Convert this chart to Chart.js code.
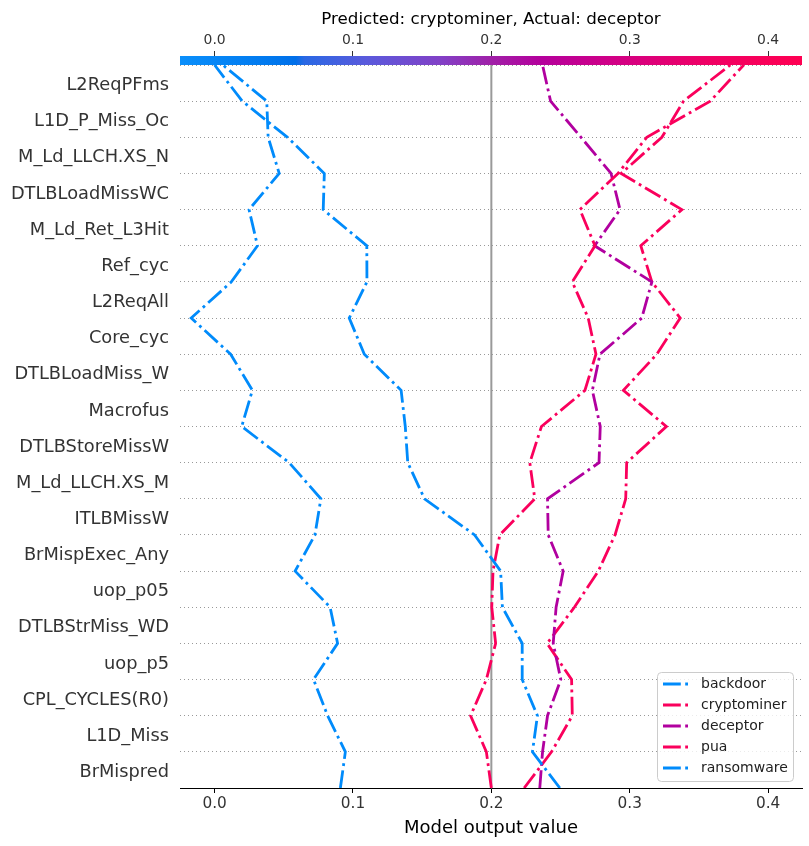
<!DOCTYPE html>
<html>
<head>
<meta charset="utf-8">
<script src="https://cdn.jsdelivr.net/npm/chart.js@4.4.1/dist/chart.umd.min.js"></script>
<style>
  html, body { margin: 0; padding: 0; background: #fff; }
  canvas { display: block; }
</style>
</head>
<body>
<canvas id="decisionChart" width="809" height="846"></canvas>
<script>
// feature names, top row first
var features = [
    "L2ReqPFms", "L1D_P_Miss_Oc", "M_Ld_LLCH.XS_N", "DTLBLoadMissWC", "M_Ld_Ret_L3Hit",
    "Ref_cyc", "L2ReqAll", "Core_cyc", "DTLBLoadMiss_W", "Macrofus",
    "DTLBStoreMissW", "M_Ld_LLCH.XS_M", "ITLBMissW", "BrMispExec_Any", "uop_p05",
    "DTLBStrMiss_WD", "uop_p5", "CPL_CYCLES(R0)", "L1D_Miss", "BrMispred"
];

var classNames = ["backdoor", "cryptominer", "deceptor", "pua", "ransomware"];

// model output per class, from the base value (bottom edge) up through each feature to the final output (top edge)
var backdoor = [0.2495, 0.2297, 0.2333, 0.2223, 0.2223, 0.2080, 0.2067, 0.1879, 0.1517, 0.1396, 0.1378,
    0.1348, 0.1082, 0.0973, 0.1101, 0.1100, 0.0785, 0.0793, 0.0527, 0.0200, 0.0000];
var cryptominer = [0.2000, 0.1964, 0.1850, 0.1964, 0.2031, 0.2003, 0.2012, 0.2061, 0.2314, 0.2278, 0.2362,
    0.2676, 0.2756, 0.2700, 0.2585, 0.2749, 0.2640, 0.2915, 0.3123, 0.3582, 0.3824];
var deceptor = [0.2350, 0.2370, 0.2406, 0.2502, 0.2447, 0.2468, 0.2519, 0.2411, 0.2406, 0.2778, 0.2787,
    0.2730, 0.2785, 0.3087, 0.3160, 0.2746, 0.2930, 0.2865, 0.2648, 0.2428, 0.2370];
var pua = [0.2237, 0.2435, 0.2585, 0.2580, 0.2403, 0.2600, 0.2773, 0.2894, 0.2971, 0.2978, 0.3265,
    0.2954, 0.3196, 0.3365, 0.3160, 0.3080, 0.3377, 0.2938, 0.3232, 0.3389, 0.3727];
var ransomware = [0.0909, 0.0945, 0.0817, 0.0715, 0.0889, 0.0835, 0.0582, 0.0725, 0.0768, 0.0539, 0.0196,
    0.0273, 0.0116, -0.0169, 0.0121, 0.0310, 0.0249, 0.0467, 0.0387, 0.0377, 0.0060];

var baseValue = 0.2;
var xTicks = [0.0, 0.1, 0.2, 0.3, 0.4];

var xMin = -0.025, xMax = 0.4245;
var lineColors = ['#008bfb', '#fa005c', '#b1009f', '#fa005c', '#008bfb'];
var dashDot = [17.8, 4.4, 2.8, 4.4];

Chart.defaults.font.family = "'DejaVu Sans', sans-serif";

var series = [backdoor, cryptominer, deceptor, pua, ransomware];
var datasets = series.map(function (vals, k) {
    return {
        label: classNames[k],
        data: vals.map(function (v, i) { return { x: v, y: i }; }),
        borderColor: lineColors[k],
        backgroundColor: lineColors[k],
        borderWidth: 2.8,
        borderDash: dashDot,
        borderCapStyle: 'butt',
        pointRadius: 0,
        tension: 0,
        fill: false
    };
});

var decisionExtras = {
    id: 'decisionExtras',
    beforeDatasetsDraw: function (chart) {
        var ctx = chart.ctx, a = chart.chartArea;
        var bx = chart.scales.x.getPixelForValue(baseValue);
        ctx.save();
        ctx.strokeStyle = '#999999';
        ctx.lineWidth = 2;
        ctx.beginPath();
        ctx.moveTo(bx, a.top);
        ctx.lineTo(bx, a.bottom);
        ctx.stroke();
        ctx.restore();
    },
    afterDraw: function (chart) {
        var ctx = chart.ctx, a = chart.chartArea;
        // colour bar over the x range
        var g = ctx.createLinearGradient(a.left, 0, a.right, 0);
        g.addColorStop(0.00, '#0a8ffb');
        g.addColorStop(0.15, '#0078ee');
        g.addColorStop(0.186, '#006fe9');
        g.addColorStop(0.20, '#2a68e4');
        g.addColorStop(0.30, '#5a5adc');
        g.addColorStop(0.42, '#8240c6');
        g.addColorStop(0.50, '#a020a8');
        g.addColorStop(0.58, '#b4009c');
        g.addColorStop(0.70, '#d20085');
        g.addColorStop(0.85, '#f00064');
        g.addColorStop(1.00, '#ff0052');
        ctx.save();
        ctx.fillStyle = g;
        ctx.fillRect(a.left, a.top - 9, a.right - a.left, 9);
        ctx.restore();

        // legend, lower right inside the plot
        var rowH = 21, boxW = 136, boxH = 109;
        var bx = a.right - 9 - boxW, by = a.bottom - 7 - boxH;
        ctx.save();
        ctx.beginPath();
        ctx.roundRect(bx + 0.5, by + 0.5, boxW, boxH, 4);
        ctx.fillStyle = 'rgba(255,255,255,0.8)';
        ctx.fill();
        ctx.strokeStyle = '#cccccc';
        ctx.lineWidth = 1;
        ctx.stroke();
        ctx.font = "14px 'DejaVu Sans'";
        ctx.textBaseline = 'middle';
        ctx.textAlign = 'left';
        chart.data.datasets.forEach(function (ds, k) {
            var cy = by + 12 + k * rowH;
            ctx.beginPath();
            ctx.setLineDash(ds.borderDash);
            ctx.lineWidth = ds.borderWidth;
            ctx.strokeStyle = ds.borderColor;
            ctx.moveTo(bx + 6, cy);
            ctx.lineTo(bx + 33, cy);
            ctx.stroke();
            ctx.setLineDash([]);
            ctx.fillStyle = '#222';
            ctx.fillText(ds.label, bx + 44, cy);
        });
        ctx.restore();
    }
};

var config = {
    type: 'line',
    data: { datasets: datasets },
    options: {
        responsive: false,
        animation: false,
        layout: { padding: { left: 0, right: 7, top: 0, bottom: 0 } },
        plugins: {
            legend: { display: false },
            tooltip: { enabled: false }
        },
        scales: {
            x: {
                type: 'linear', position: 'bottom', min: xMin, max: xMax,
                afterBuildTicks: function (s) { s.ticks = xTicks.map(function (v) { return { value: v }; }); },
                ticks: {
                    callback: function (v) { return v.toFixed(1); },
                    font: { size: 15.3 }, color: '#333', padding: 2, maxRotation: 0
                },
                grid: { drawOnChartArea: false, drawTicks: true, tickLength: 5, tickColor: '#000', tickWidth: 1 },
                border: { display: true, color: '#000', width: 1 },
                title: {
                    display: true, text: 'Model output value',
                    font: { size: 18 }, color: '#000', padding: { top: 0, bottom: 7 }
                },
                afterFit: function (s) { s.height = 58; }
            },
            x2: {
                type: 'linear', position: 'top', min: xMin, max: xMax,
                afterBuildTicks: function (s) { s.ticks = xTicks.map(function (v) { return { value: v }; }); },
                ticks: {
                    callback: function (v) { return v.toFixed(1); },
                    font: { size: 13.9 }, color: '#333', padding: 2, maxRotation: 0
                },
                grid: { drawOnChartArea: false, drawTicks: true, tickLength: 14, tickColor: '#333', tickWidth: 1 },
                border: { display: false },
                title: {
                    display: true, text: 'Predicted: cryptominer, Actual: deceptor',
                    font: { size: 16.7 }, color: '#000', padding: { top: 10, bottom: 0 }
                },
                afterFit: function (s) { s.height = 65; }
            },
            y: {
                type: 'linear', position: 'left', min: 0, max: features.length,
                afterBuildTicks: function (s) {
                    s.ticks = features.map(function (f, i) { return { value: features.length - i - 0.5 }; });
                },
                ticks: {
                    autoSkip: false,
                    callback: function (v) { return features[features.length - 1 - Math.floor(v)]; },
                    font: { size: 17.8 }, color: '#333', padding: 11, labelOffset: 2.5
                },
                grid: { display: false, drawTicks: false },
                border: { display: false },
                afterFit: function (s) { s.width = 180; }
            },
            yGrid: {
                type: 'linear', position: 'left', min: 0, max: features.length,
                ticks: { display: false, stepSize: 1 },
                grid: { color: '#999999', lineWidth: 1, drawTicks: false },
                border: { display: false, dash: [1, 3] },
                afterFit: function (s) { s.width = 0; }
            }
        }
    },
    plugins: [decisionExtras]
};

var ctx = document.getElementById("decisionChart");
window.decisionChart = new Chart(ctx, config);
</script>
</body>
</html>
